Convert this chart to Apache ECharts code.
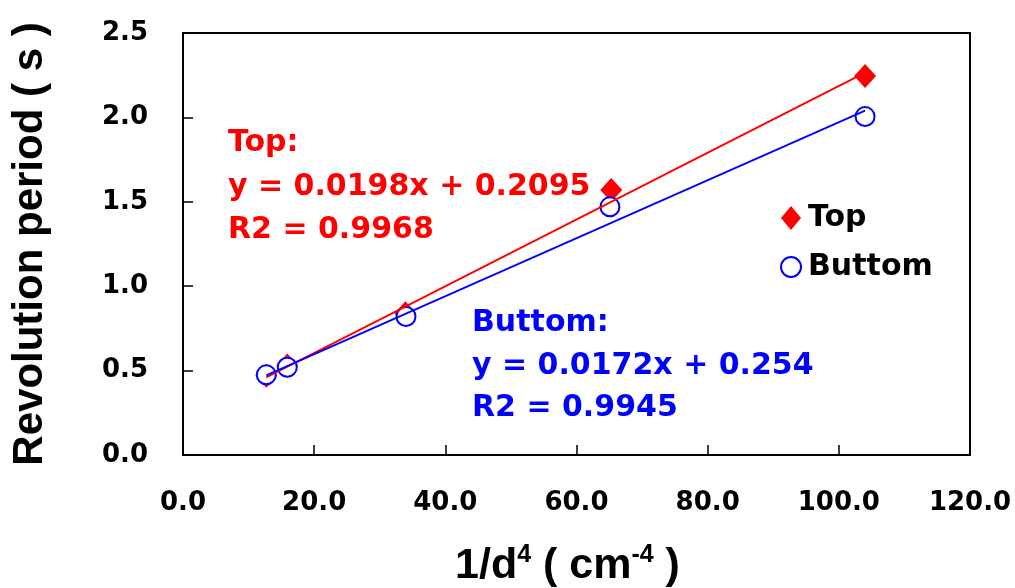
<!DOCTYPE html>
<html>
<head>
<meta charset="utf-8">
<script src="https://cdn.jsdelivr.net/npm/echarts@6/dist/echarts.min.js"></script>
<style>
  html, body { margin: 0; padding: 0; background: #fff; }
  #chart { width: 1015px; height: 588px; }
</style>
</head>
<body>
<div id="chart"></div>
<script>
const topX = [12.7, 15.9, 33.9, 65.3, 104.0]
const topY = [0.47, 0.53, 0.84, 1.57, 2.245]
const bottomX = [12.7, 15.9, 34.0, 65.1, 104.0]
const bottomY = [0.475, 0.52, 0.82, 1.47, 2.005]

// trendline end points
const topTrendX = [12.7, 104.0]
const topTrendY = [0.46, 2.265]
const bottomTrendX = [12.7, 104.0]
const bottomTrendY = [0.472, 2.04]

const topLabel = ['Top:', 'y = 0.0198x + 0.2095', 'R2 = 0.9968']
const bottomLabel = ['Buttom:', 'y = 0.0172x + 0.254', 'R2 = 0.9945']

const pair = (xs, ys) => xs.map((x, i) => [x, ys[i]])

const WIDE = '"DejaVu Sans", sans-serif'
const ARIAL = '"Liberation Sans", Arial, sans-serif'
const RED = '#ff0000'
const BLUE = '#0000ff'

const myChart = echarts.init(document.getElementById('chart'))

const textLines = (lines, x, ys, color) => lines.map((t, i) => ({
  type: 'text',
  x: x,
  y: ys[i],
  z: 10,
  style: {
    text: t,
    fill: color,
    font: 'bold 30px ' + WIDE,
    verticalAlign: 'middle'
  }
}))

const option = {
  backgroundColor: '#fff',
  animation: false,
  grid: {
    left: 183,
    right: 45,
    top: 33,
    bottom: 133,
    containLabel: false,
    outerBoundsMode: 'none',
    show: true,
    borderColor: '#000',
    borderWidth: 2
  },
  legend: {
    orient: 'vertical',
    left: 775,
    top: 194,
    itemWidth: 20,
    itemHeight: 24,
    itemGap: 11,
    textStyle: {
      color: '#000',
      fontFamily: WIDE,
      fontWeight: 'bold',
      fontSize: 30,
      lineHeight: 38,
      padding: [0, 0, 0, 2]
    },
    data: ['Top', 'Buttom']
  },
  xAxis: {
    type: 'value',
    min: 0,
    max: 120,
    interval: 20,
    splitLine: { show: false },
    axisLine: { lineStyle: { color: '#000', width: 2 } },
    axisTick: { inside: true, length: 10, lineStyle: { color: '#000', width: 1.5 } },
    axisLabel: {
      margin: 35,
      color: '#000',
      fontFamily: WIDE,
      fontWeight: 'bold',
      fontSize: 26,
      formatter: v => v.toFixed(1)
    },
    name: '1/d{sup|4} ( cm{sup|-4} )',
    nameLocation: 'middle',
    nameGap: 88,
    nameTextStyle: {
      color: '#000',
      fontFamily: ARIAL,
      fontWeight: 'bold',
      fontSize: 43,
      lineHeight: 46,
      padding: [0, 18, 0, 0],
      rich: {
        sup: {
          fontFamily: ARIAL,
          fontWeight: 'bold',
          fontSize: 25,
          lineHeight: 25,
          verticalAlign: 'top'
        }
      }
    }
  },
  yAxis: {
    type: 'value',
    min: 0,
    max: 2.5,
    interval: 0.5,
    splitLine: { show: false },
    axisLine: { lineStyle: { color: '#000', width: 2 } },
    axisTick: { inside: true, length: 10, lineStyle: { color: '#000', width: 1.5 } },
    axisLabel: {
      margin: 35,
      color: '#000',
      fontFamily: WIDE,
      fontWeight: 'bold',
      fontSize: 26,
      formatter: v => v.toFixed(1)
    },
    name: 'Revolution period ( s )',
    nameLocation: 'middle',
    nameGap: 132,
    nameTextStyle: {
      color: '#000',
      fontFamily: ARIAL,
      fontWeight: 'bold',
      fontSize: 42
    }
  },
  series: [
    {
      name: 'Top',
      type: 'scatter',
      symbol: 'diamond',
      symbolSize: [22, 24],
      itemStyle: { color: RED, opacity: 1 },
      data: pair(topX, topY),
      z: 2
    },
    {
      name: 'Buttom',
      type: 'scatter',
      symbol: 'circle',
      symbolSize: 19,
      itemStyle: { color: '#fff', borderColor: BLUE, borderWidth: 2, opacity: 1 },
      data: pair(bottomX, bottomY),
      z: 3
    },
    {
      name: 'Top trend',
      type: 'line',
      showSymbol: false,
      symbol: 'none',
      lineStyle: { color: RED, width: 1.8 },
      data: pair(topTrendX, topTrendY),
      z: 4
    },
    {
      name: 'Buttom trend',
      type: 'line',
      showSymbol: false,
      symbol: 'none',
      lineStyle: { color: BLUE, width: 1.8 },
      data: pair(bottomTrendX, bottomTrendY),
      z: 4
    }
  ],
  graphic: [
    ...textLines(topLabel, 228, [143, 187, 230], RED),
    ...textLines(bottomLabel, 472, [323, 366, 408], BLUE)
  ]
}

option && myChart.setOption(option)
</script>
</body>
</html>
